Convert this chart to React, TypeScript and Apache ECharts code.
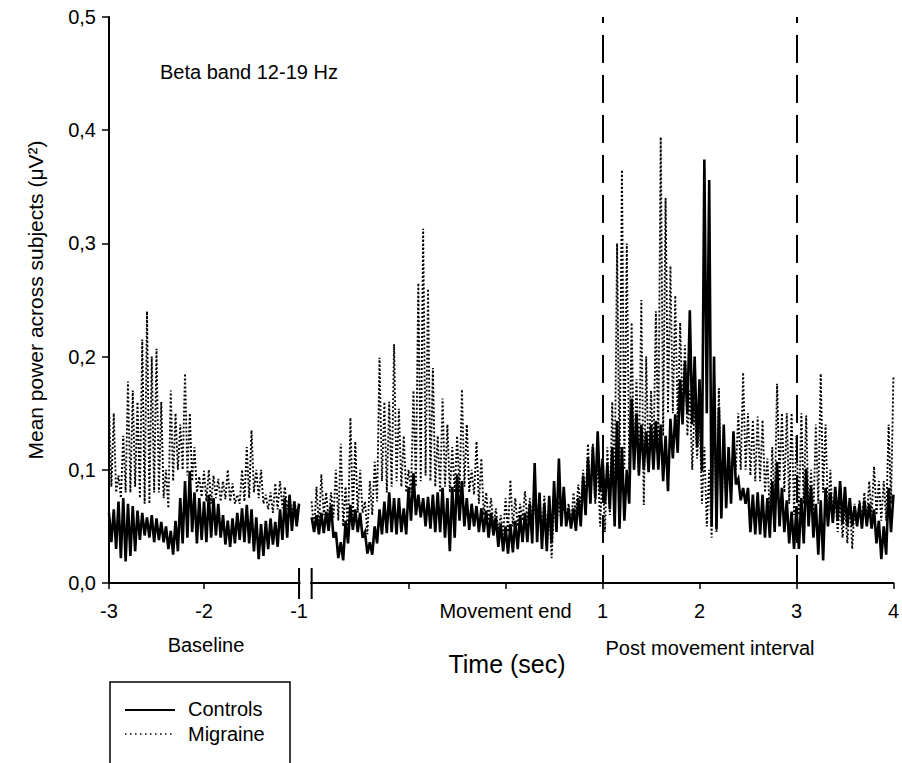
import React, { useEffect, useRef } from "react";
import * as echarts from "echarts";

// ---- time layout ----
const STEP = 0.025; // seconds between samples
const BASELINE_START = -3; // baseline segment: -3 .. -1 s
const POST_START = -2; // movement-locked segment: -2 .. 4 s
const BASELINE_TICKS = [-3, -2, -1];
const BASELINE_TICK_LABELS = ["-3", "-2", "-1"];
const POST_TICKS = [-1, 0, 1, 2, 3, 4];
const POST_TICK_LABELS = ["", "Movement end", "1", "2", "3", "4"];
const INTERVAL_MARKERS = [1, 3];
const Y_MIN = 0;
const Y_MAX = 0.5;
const Y_INTERVAL = 0.1;

// ---- series values (mean power, µV²), alternating peaks / troughs of the fast oscillation ----
const CONTROLS_BASELINE = [
  .062, .036, .065, .030, .072, .022, .075, .019, .070, .024, .068, .028,
  .064, .038, .062, .042, .058, .040, .060, .036, .057, .038, .054, .036,
  .050, .030, .046, .025, .055, .028, .075, .035, .090, .040, .099, .045,
  .080, .035, .075, .038, .072, .036, .078, .040, .075, .042, .070, .040,
  .060, .034, .055, .032, .057, .035, .062, .038, .066, .036, .069, .035,
  .065, .028, .058, .021, .052, .024, .055, .030, .057, .034, .054, .032,
  .065, .038, .075, .040, .078, .046, .072, .050, .070,
];

const MIGRAINE_BASELINE = [
  .161, .085, .150, .080, .095, .075, .130, .080, .178, .080, .170, .085,
  .160, .075, .215, .070, .240, .070, .200, .080, .207, .080, .160, .075,
  .100, .066, .170, .090, .150, .100, .140, .100, .185, .095, .150, .090,
  .120, .080, .094, .076, .099, .072, .100, .070, .095, .075, .092, .072,
  .090, .074, .100, .072, .088, .070, .078, .070, .100, .072, .120, .075,
  .135, .080, .100, .075, .100, .070, .078, .065, .080, .062, .088, .065,
  .090, .066, .085, .065, .077, .060, .072, .062, .070,
];

const CONTROLS_POST = [
  .058, .045, .060, .043, .062, .044, .063, .046, .069, .040, .045, .022,
  .036, .020, .055, .035, .069, .047, .065, .045, .062, .040, .045, .026,
  .036, .025, .050, .035, .065, .043, .072, .044, .080, .045, .075, .043,
  .075, .045, .066, .043, .085, .055, .097, .060, .078, .058, .075, .050,
  .076, .048, .078, .045, .080, .045, .084, .040, .075, .028, .085, .040,
  .096, .055, .090, .050, .075, .047, .070, .050, .068, .045, .066, .045,
  .064, .040, .062, .042, .058, .032, .052, .028, .050, .026, .052, .027,
  .055, .030, .060, .036, .062, .036, .070, .035, .106, .036, .080, .030,
  .070, .028, .077, .035, .090, .045, .110, .050, .085, .050, .066, .048,
  .066, .046, .075, .050, .095, .060, .110, .070, .120, .075, .134, .080,
  .110, .070, .105, .065, .120, .050, .143, .048, .120, .055, .100, .070,
  .163, .100, .150, .095, .140, .100, .134, .098, .140, .100, .143, .100,
  .140, .090, .130, .081, .145, .110, .149, .115, .180, .140, .196, .150,
  .241, .140, .200, .120, .180, .099, .374, .150, .356, .050, .200, .048,
  .155, .057, .140, .066, .120, .070, .134, .087, .092, .073, .084, .070,
  .084, .045, .078, .043, .080, .043, .078, .040, .075, .040, .090, .045,
  .107, .050, .084, .045, .073, .035, .063, .030, .068, .030, .075, .035,
  .101, .050, .085, .040, .070, .025, .073, .020, .084, .050, .080, .053,
  .085, .055, .090, .052, .085, .050, .075, .050, .068, .050, .070, .048,
  .073, .050, .070, .048, .065, .035, .055, .021, .050, .025, .084, .045,
  .078,
];

const MIGRAINE_POST = [
  .072, .045, .085, .050, .096, .060, .080, .055, .080, .058, .100, .055,
  .123, .050, .085, .043, .146, .060, .125, .062, .100, .062, .072, .043,
  .090, .060, .107, .072, .199, .090, .160, .080, .160, .085, .211, .090,
  .154, .085, .130, .080, .100, .080, .170, .085, .265, .090, .313, .095,
  .260, .090, .190, .085, .130, .080, .163, .085, .140, .080, .120, .080,
  .130, .080, .171, .085, .140, .080, .100, .078, .125, .070, .110, .060,
  .080, .055, .075, .050, .066, .045, .060, .043, .075, .045, .091, .050,
  .075, .050, .070, .055, .081, .055, .075, .050, .075, .048, .070, .045,
  .077, .040, .065, .022, .070, .050, .072, .055, .072, .055, .070, .050,
  .080, .060, .087, .065, .100, .070, .123, .075, .123, .070, .110, .050,
  .100, .045, .120, .060, .160, .080, .300, .090, .365, .100, .300, .100,
  .230, .100, .180, .095, .250, .069, .200, .100, .170, .110, .240, .120,
  .394, .130, .340, .150, .280, .150, .254, .140, .230, .150, .210, .130,
  .170, .100, .160, .110, .150, .070, .120, .050, .100, .040, .170, .045,
  .172, .060, .122, .070, .118, .090, .120, .100, .150, .100, .186, .100,
  .150, .095, .144, .090, .147, .090, .144, .080, .110, .060, .120, .065,
  .176, .090, .150, .080, .150, .070, .150, .060, .130, .060, .150, .070,
  .148, .060, .100, .060, .140, .070, .185, .080, .140, .060, .100, .053,
  .080, .045, .073, .040, .070, .035, .073, .030, .070, .050, .073, .053,
  .080, .055, .090, .060, .103, .060, .090, .055, .090, .055, .140, .070,
  .183,
];

// ---- broken time axis: both segments placed on one continuous position scale ----
const SEG1_SCALE = 0.98;
const SEG2_OFFSET = 4.09;
const posBaseline = (t: number) => (t - BASELINE_START) * SEG1_SCALE;
const posPost = (t: number) => t + SEG2_OFFSET;
const X_MAX = posPost(POST_TICKS[POST_TICKS.length - 1]);

const FONT = "'Liberation Sans', Arial, Helvetica, sans-serif";

export default function App() {
  const ref = useRef<HTMLDivElement | null>(null);

  useEffect(() => {
    if (!ref.current) return;
    const chart = echarts.init(ref.current, undefined, { renderer: "svg" });

    const toData = (vals: number[], start: number, pos: (t: number) => number) =>
      vals.map((v, i) => [pos(start + i * STEP), v]);

    const labelMap = new Map<number, string>();
    BASELINE_TICKS.forEach((t, i) => labelMap.set(Math.round(posBaseline(t) * 1000), BASELINE_TICK_LABELS[i]));
    POST_TICKS.forEach((t, i) => labelMap.set(Math.round(posPost(t) * 1000), POST_TICK_LABELS[i]));
    const labelValues = [...BASELINE_TICKS.map(posBaseline), ...POST_TICKS.map(posPost)];

    const common = {
      type: "line" as const,
      showSymbol: false,
      symbol: "none",
      silent: true,
      animation: false,
      emphasis: { disabled: true },
    };

    const migraineStyle = { color: "#000", width: 1.9, type: [1.9, 2.1] };
    const controlsStyle = { color: "#000", width: 2.6, join: "miter" as const };

    chart.setOption({
      animation: false,
      grid: { left: 109, right: 7, top: 17, bottom: 180 },
      xAxis: {
        type: "value",
        min: 0,
        max: X_MAX,
        splitLine: { show: false },
        axisLine: { show: true, lineStyle: { color: "#000", width: 2 } },
        axisTick: {
          show: true,
          customValues: labelValues,
          length: 6,
          lineStyle: { color: "#000", width: 1.5 },
        },
        axisLabel: {
          customValues: labelValues,
          formatter: (v: number) => labelMap.get(Math.round(v * 1000)) ?? "",
          color: "#000",
          fontSize: 20,
          fontFamily: FONT,
          margin: 18,
        },
      },
      yAxis: {
        type: "value",
        min: Y_MIN,
        max: Y_MAX,
        interval: Y_INTERVAL,
        splitLine: { show: false },
        axisLine: { show: true, lineStyle: { color: "#000", width: 2 } },
        axisTick: { show: true, length: 7, lineStyle: { color: "#000", width: 1.5 } },
        axisLabel: {
          formatter: (v: number) => v.toFixed(1).replace(".", ","),
          color: "#000",
          fontSize: 20,
          fontFamily: FONT,
          margin: 13,
        },
        name: "Mean power across subjects (\u03bcV\u00b2)",
        nameLocation: "middle",
        nameRotate: 90,
        nameGap: 63,
        nameTextStyle: { color: "#000", fontSize: 21, fontFamily: FONT },
      },
      series: [
        {
          ...common,
          name: "Migraine",
          data: toData(MIGRAINE_BASELINE, BASELINE_START, posBaseline),
          lineStyle: migraineStyle,
          z: 2,
        },
        {
          ...common,
          name: "Migraine",
          data: toData(MIGRAINE_POST, POST_START, posPost),
          lineStyle: migraineStyle,
          z: 2,
        },
        {
          ...common,
          name: "Controls",
          data: toData(CONTROLS_BASELINE, BASELINE_START, posBaseline),
          lineStyle: controlsStyle,
          z: 3,
        },
        {
          ...common,
          name: "Controls",
          data: toData(CONTROLS_POST, POST_START, posPost),
          lineStyle: controlsStyle,
          z: 3,
          markLine: {
            silent: true,
            symbol: ["none", "none"],
            label: { show: false },
            emphasis: { disabled: true },
            lineStyle: { color: "#000", width: 2, type: [28, 12] },
            data: INTERVAL_MARKERS.map((t) => ({ xAxis: posPost(t) })),
          },
        },
      ],
    });

    // axis break marks and annotations
    const pBreak1 = chart.convertToPixel({ xAxisIndex: 0 }, posBaseline(-1)) as number;
    const pBreak2 = chart.convertToPixel({ xAxisIndex: 0 }, posPost(POST_START)) as number;
    const yAxis0 = chart.convertToPixel({ yAxisIndex: 0 }, 0) as number;

    const txt = (id: string, text: string, x: number, y: number, size: number, align = "left") => ({
      type: "text",
      id,
      x,
      y,
      silent: true,
      style: { text, fill: "#000", font: `${size}px ${FONT}`, align, verticalAlign: "middle" },
    });

    chart.setOption({
      graphic: [
        {
          type: "rect",
          id: "breakGap",
          silent: true,
          shape: { x: pBreak1 + 1.5, y: yAxis0 - 3, width: pBreak2 - pBreak1 - 3, height: 6 },
          style: { fill: "#fff" },
          z: 100,
        },
        {
          type: "line",
          id: "break1",
          silent: true,
          shape: { x1: pBreak1, y1: yAxis0 - 15, x2: pBreak1, y2: yAxis0 + 16 },
          style: { stroke: "#000", lineWidth: 2 },
          z: 101,
        },
        {
          type: "line",
          id: "break2",
          silent: true,
          shape: { x1: pBreak2, y1: yAxis0 - 15, x2: pBreak2, y2: yAxis0 + 16 },
          style: { stroke: "#000", lineWidth: 2 },
          z: 101,
        },
        txt("beta", "Beta band 12-19 Hz", 160, 72, 20),
        txt("baseline", "Baseline", 206, 645, 20, "center"),
        txt("post", "Post movement interval", 710, 648, 20, "center"),
        txt("time", "Time (sec)", 507, 664, 25, "center"),
        {
          type: "rect",
          id: "legendBox",
          silent: true,
          shape: { x: 110, y: 682, width: 180, height: 100 },
          style: { fill: "none", stroke: "#000", lineWidth: 1.5 },
        },
        {
          type: "line",
          id: "legControls",
          silent: true,
          shape: { x1: 125, y1: 710, x2: 175, y2: 710 },
          style: { stroke: "#000", lineWidth: 2 },
        },
        {
          type: "line",
          id: "legMigraine",
          silent: true,
          shape: { x1: 125, y1: 734, x2: 175, y2: 734 },
          style: { stroke: "#000", lineWidth: 1.5, lineDash: [1.5, 3.5] },
        },
        txt("legC", "Controls", 188, 709, 20),
        txt("legM", "Migraine", 188, 734, 20),
      ],
    });

    return () => chart.dispose();
  }, []);

  return (
    <div
      ref={ref}
      style={{ position: "fixed", left: 0, top: 0, width: 902, height: 763, background: "#fff" }}
    />
  );
}
